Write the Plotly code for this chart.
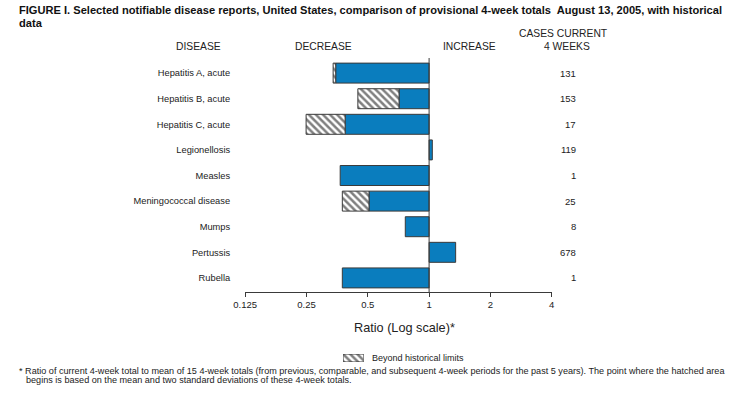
import plotly.graph_objects as go

# ---- data ----
diseases = ["Hepatitis A, acute", "Hepatitis B, acute", "Hepatitis C, acute",
            "Legionellosis", "Measles", "Meningococcal disease", "Mumps",
            "Pertussis", "Rubella"]
ratio = [0.338, 0.447, 0.249, 1.037, 0.366, 0.375, 0.764, 1.35, 0.375]
# point where the hatched (beyond historical limits) area begins; None = not beyond
hist_limit = [0.348, 0.712, 0.387, None, None, 0.507, None, None, None]
cases = [131, 153, 17, 119, 1, 25, 8, 678, 1]
tick_vals = [0.125, 0.25, 0.5, 1, 2, 4]
tick_text = ["0.125", "0.25", "0.5", "1", "2", "4"]

BLUE = "#0A7DBE"
EDGE = "#3a3a3a"
FONT = "Liberation Sans, Arial, Helvetica, sans-serif"
HATCH = dict(shape="\\", fgcolor="#000000", bgcolor="white", size=5, solidity=0.5)

# geometry (pixels)
W, H = 734, 393
L, R, T, B = 238, 551, 58, 292


def X(x):
    return x / W


def Y(y):
    return 1 - y / H


# blue bars: from the limit (or ratio) to 1
blue_base, blue_len = [], []
for r, lim in zip(ratio, hist_limit):
    if r < 1:
        start = lim if lim is not None else r
        blue_base.append(start)
        blue_len.append(1 - start)
    else:
        blue_base.append(1)
        blue_len.append(r - 1)

# hatched bars: from the ratio to the limit
hat_y, hat_base, hat_len = [], [], []
for d, r, lim in zip(diseases, ratio, hist_limit):
    if lim is not None:
        hat_y.append(d)
        hat_base.append(r)
        hat_len.append(lim - r)

fig = go.Figure()
fig.add_trace(go.Bar(
    y=diseases, x=blue_len, base=blue_base, orientation="h",
    marker=dict(color=BLUE, line=dict(color=EDGE, width=1)),
    width=0.78, showlegend=False, hoverinfo="skip"))
fig.add_trace(go.Bar(
    y=hat_y, x=hat_len, base=hat_base, orientation="h",
    marker=dict(color="white", line=dict(color=EDGE, width=1), pattern=HATCH),
    width=0.78, showlegend=False, hoverinfo="skip"))
# legend key box
fig.add_trace(go.Bar(
    x=[1], y=[0], base=[0], orientation="h", xaxis="x2", yaxis="y2", width=1,
    marker=dict(color="white", line=dict(color=EDGE, width=1), pattern=HATCH),
    showlegend=False, hoverinfo="skip"))

fig.add_shape(type="line", xref="x", yref="y domain", x0=1, x1=1, y0=0, y1=1,
              line=dict(color=EDGE, width=1))

annotations = []
# cases column
for d, c in zip(diseases, cases):
    annotations.append(dict(x=X(578), y=d, xref="paper", yref="y", text=str(c),
                            showarrow=False, xanchor="right", yanchor="middle",
                            font=dict(size=9.5, color="#222")))
# headers
hdr = dict(showarrow=False, xref="paper", yref="paper", font=dict(size=10.3, color="#222"),
           yanchor="middle", xanchor="center")
annotations += [
    dict(hdr, x=X(190), y=Y(46), text="DISEASE"),
    dict(hdr, x=X(318), y=Y(46), text="DECREASE"),
    dict(hdr, x=X(467), y=Y(46), text="INCREASE"),
    dict(hdr, x=X(563), y=Y(33), text="CASES CURRENT"),
    dict(hdr, x=X(567), y=Y(46), text="4 WEEKS"),
]
# title
tfont = dict(size=11.1, color="#111", family=FONT)
annotations.append(dict(
    x=X(5), y=Y(10), xref="paper", yref="paper", showarrow=False,
    xanchor="left", yanchor="middle",
    text="<b>FIGURE I. Selected notifiable disease reports, United States, comparison of provisional 4-week totals  August 13, 2005, with historical</b>",
    font=tfont))
annotations.append(dict(
    x=X(5), y=Y(23), xref="paper", yref="paper", showarrow=False,
    xanchor="left", yanchor="middle", text="<b>data</b>", font=tfont))
# axis title
annotations.append(dict(x=X(401), y=Y(328), xref="paper", yref="paper", showarrow=False,
                        xanchor="center", yanchor="middle", text="Ratio (Log scale)*",
                        font=dict(size=12.7, color="#222")))
# legend label
annotations.append(dict(x=X(365), y=Y(358), xref="paper", yref="paper", showarrow=False,
                        xanchor="left", yanchor="middle", text="Beyond historical limits",
                        font=dict(size=9, color="#222")))
# footnote
ffont = dict(size=9.1, color="#222")
annotations.append(dict(
    x=X(5), y=Y(371), xref="paper", yref="paper", showarrow=False,
    xanchor="left", yanchor="middle",
    text="* Ratio of current 4-week total to mean of 15 4-week totals (from previous, comparable, and subsequent 4-week periods for the past 5 years). The point where the hatched area",
    font=ffont))
annotations.append(dict(
    x=X(12), y=Y(380), xref="paper", yref="paper", showarrow=False,
    xanchor="left", yanchor="middle",
    text="begins is based on the mean and two standard deviations of these 4-week totals.",
    font=ffont))

fig.update_layout(
    width=W, height=H,
    margin=dict(l=0, r=0, t=0, b=0, pad=0),
    paper_bgcolor="white", plot_bgcolor="white",
    barmode="overlay",
    font=dict(family=FONT, size=9, color="#222"),
    annotations=annotations,
    showlegend=False,
    xaxis=dict(domain=[X(L), X(R)], anchor="y"),
    yaxis=dict(domain=[Y(B), Y(T)], anchor="x"),
    xaxis2=dict(domain=[X(338), X(359)], anchor="y2", range=[0, 1], visible=False),
    yaxis2=dict(domain=[Y(362), Y(354)], anchor="x2", range=[-0.5, 0.5], visible=False),
)
fig.update_xaxes(selector=dict(anchor="y"), type="log", range=[-0.90309, 0.60206],
                 tickvals=tick_vals, ticktext=tick_text,
                 showline=True, linecolor=EDGE, linewidth=1,
                 ticks="outside", ticklen=4, tickcolor=EDGE,
                 showgrid=False, zeroline=False,
                 tickfont=dict(size=9.5, color="#222"))
fig.update_yaxes(selector=dict(anchor="x"), type="category", categoryorder="array",
                 categoryarray=diseases,
                 range=[8.55, -0.59], showgrid=False, zeroline=False,
                 showline=False, ticks="", ticklabelstandoff=14,
                 tickfont=dict(size=9.3, color="#222"))

fig.write_html("out.html", config={"displayModeBar": False},
               post_script="document.body.style.margin='0';")
